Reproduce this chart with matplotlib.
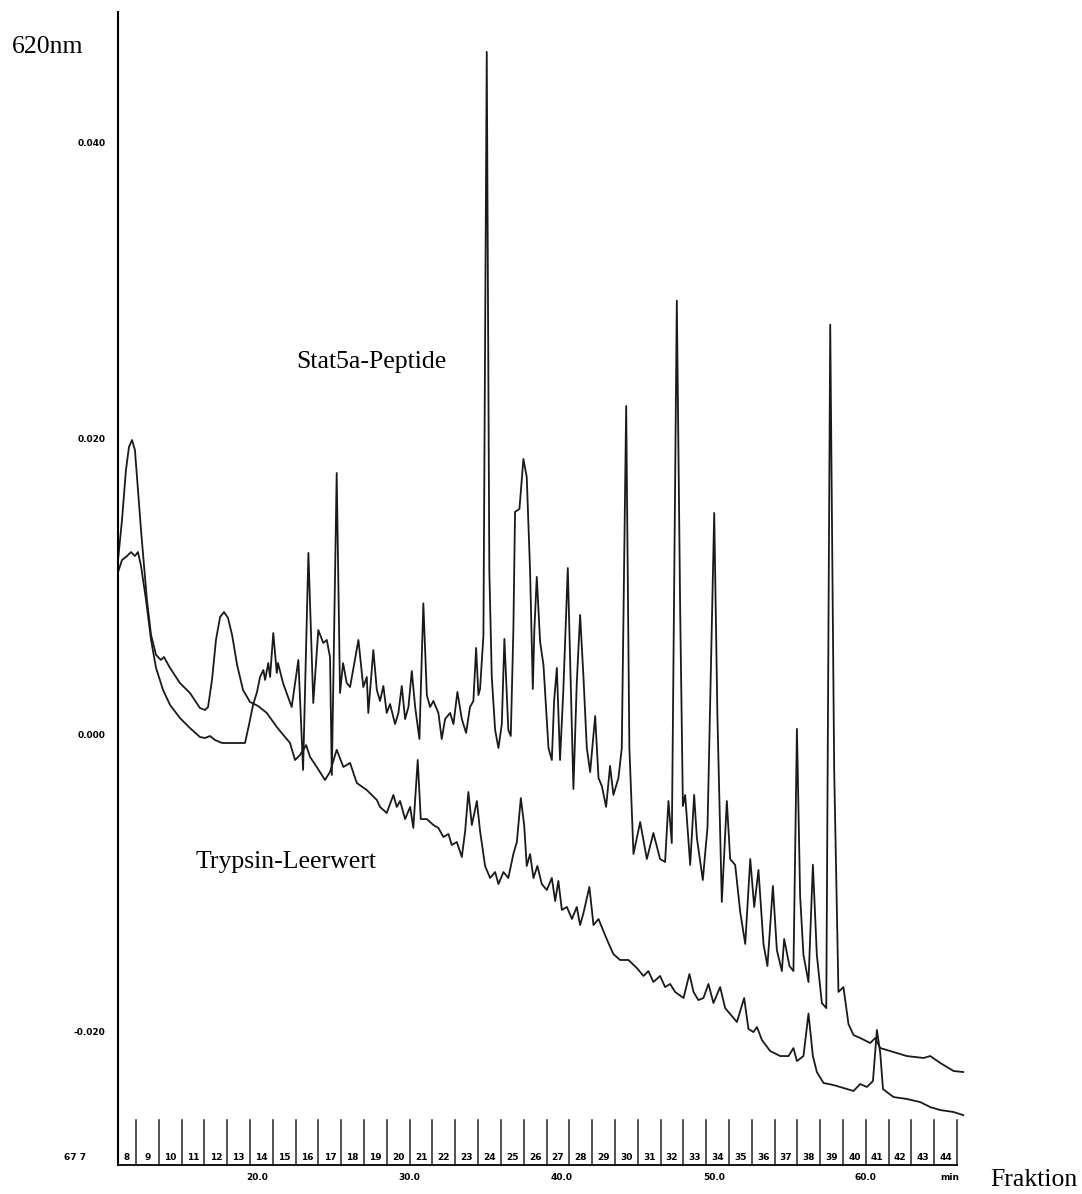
import numpy as np
import matplotlib
matplotlib.use('Agg')
import matplotlib.pyplot as plt

# retention time (min) and absorbance at 620 nm (mAU)
sample_t = [10.82, 11.08, 11.41, 11.67, 11.93, 12.13, 12.33, 12.66, 12.99, 13.32, 13.78, 14.24, 14.89, 15.55,
            16.21, 16.54, 16.87, 17.20, 17.66, 18.51, 19.17, 19.43, 19.70, 19.96, 20.16, 20.38, 20.49, 20.70,
            20.82, 21.03, 21.26, 21.34, 21.67, 22.24, 22.68, 22.99, 23.34, 23.66, 23.99, 24.32, 24.55, 24.76,
            24.88, 25.20, 25.42, 25.62, 25.86, 26.08, 26.63, 26.95, 27.18, 27.28, 27.61, 27.84, 28.05, 28.27,
            28.49, 28.71, 29.04, 29.26, 29.48, 29.70, 29.92, 30.14, 30.36, 30.64, 30.90, 31.13, 31.34, 31.56,
            31.89, 32.11, 32.33, 32.66, 32.88, 33.14, 33.43, 33.71, 33.97, 34.19, 34.37, 34.52, 34.63, 34.85,
            35.07, 35.24, 35.40, 35.62, 35.84, 36.06, 36.23, 36.49, 36.65, 36.82, 36.93, 37.22, 37.48, 37.70,
            37.92, 38.10, 38.20, 38.36, 38.58, 38.80, 39.13, 39.35, 39.50, 39.68, 39.89, 40.11, 40.40, 40.60,
            40.77, 40.99, 41.21, 41.43, 41.65, 41.87, 42.20, 42.42, 42.64, 42.92, 43.18, 43.40, 43.73, 43.95,
            44.24, 44.45, 44.72, 45.16, 45.60, 46.03, 46.47, 46.80, 47.02, 47.24, 47.57, 47.79, 47.97, 48.12,
            48.45, 48.71, 48.89, 49.28, 49.59, 50.03, 50.24, 50.53, 50.86, 51.08, 51.41, 51.74, 52.07, 52.40,
            52.66, 52.94, 53.27, 53.53, 53.89, 54.15, 54.48, 54.63, 54.98, 55.24, 55.47, 55.68, 55.90, 56.23,
            56.52, 56.78, 57.11, 57.40, 57.66, 57.92, 58.20, 58.53, 58.86, 59.19, 59.63, 60.29, 60.62, 60.95,
            62.70, 63.80, 64.24, 64.90, 65.77, 66.41]
sample_mau = [11.01, 11.82, 12.09, 12.36, 12.09, 12.36, 11.42, 9.12, 6.42, 4.53, 3.04, 2.03, 1.15, 0.47,
              -0.14, -0.20, -0.07, -0.34, -0.54, -0.54, -0.54, 0.68, 2.03, 2.91, 3.92, 4.39, 3.72, 4.86,
              3.92, 6.89, 4.19, 4.86, 3.51, 1.89, 5.07, -2.36, 12.30, 2.16, 7.09, 6.22, 6.42, 5.27,
              -2.70, 17.70, 2.84, 4.86, 3.51, 3.24, 6.42, 3.24, 3.92, 1.49, 5.74, 3.04, 2.30, 3.31,
              1.49, 2.09, 0.74, 1.49, 3.31, 1.08, 1.89, 4.32, 1.89, -0.27, 8.89, 2.70, 1.89, 2.30,
              1.49, -0.27, 1.08, 1.49, 0.74, 2.91, 1.08, 0.14, 1.89, 2.30, 5.88, 2.70, 3.11, 6.69,
              46.15, 11.08, 3.92, 0.34, -0.88, 0.74, 6.49, 0.34, -0.07, 7.09, 15.07, 15.27, 18.65, 17.43,
              11.08, 3.11, 7.09, 10.68, 6.28, 4.73, -0.88, -1.69, 2.30, 4.53, -1.69, 3.11, 11.28, 3.11,
              -3.65, 3.51, 8.11, 3.92, -0.88, -2.50, 1.28, -2.91, -3.45, -4.86, -2.09, -4.05, -2.91, -0.88,
              22.23, -0.88, -8.04, -5.88, -8.38, -6.62, -8.38, -8.58, -4.46, -7.30, 29.35, 8.51, -4.80, -4.05,
              -8.78, -4.05, -6.96, -9.80, -6.22, 15.00, 1.28, -11.28, -4.46, -8.38, -8.78, -11.96, -14.12, -8.38,
              -11.62, -9.12, -14.12, -15.61, -10.20, -14.53, -15.95, -13.78, -15.61, -15.95, 0.41, -10.88, -14.86, -16.69,
              -8.76, -14.86, -18.11, -18.45, 27.73, -2.30, -17.36, -17.03, -19.53, -20.27, -20.47, -20.81, -20.47, -21.15,
              -21.69, -21.82, -21.69, -22.16, -22.70, -22.77]

blank_t = [10.82, 11.08, 11.34, 11.54, 11.74, 11.93, 12.13, 12.33, 12.46, 12.72, 12.99, 13.32, 13.64, 13.84,
           14.24, 14.89, 15.55, 16.21, 16.54, 16.74, 17.00, 17.26, 17.53, 17.79, 18.05, 18.32, 18.65, 19.04,
           19.50, 20.03, 20.60, 21.26, 22.13, 22.46, 22.79, 23.19, 23.45, 23.89, 24.43, 24.76, 25.20, 25.64,
           26.08, 26.52, 27.18, 27.84, 28.05, 28.49, 28.93, 29.15, 29.37, 29.70, 30.03, 30.24, 30.53, 30.73,
           31.13, 31.56, 31.89, 32.22, 32.55, 32.77, 33.10, 33.43, 33.65, 33.86, 34.09, 34.42, 34.63, 34.96,
           35.29, 35.62, 35.84, 36.17, 36.49, 36.82, 37.05, 37.31, 37.53, 37.70, 37.92, 38.14, 38.40, 38.69,
           39.02, 39.35, 39.57, 39.78, 40.01, 40.34, 40.67, 40.99, 41.21, 41.43, 41.82, 42.09, 42.42, 42.74,
           43.07, 43.40, 43.84, 44.39, 44.94, 45.38, 45.70, 46.03, 46.47, 46.80, 47.13, 47.46, 48.01, 48.40,
           48.67, 48.99, 49.32, 49.65, 49.98, 50.42, 50.75, 51.08, 51.52, 52.00, 52.28, 52.61, 52.84, 53.17,
           53.71, 54.37, 54.92, 55.24, 55.47, 55.90, 56.23, 56.52, 56.78, 57.22, 57.88, 58.53, 59.19, 59.63,
           60.07, 60.47, 60.73, 60.95, 61.13, 61.82, 62.70, 63.58, 64.24, 64.90, 65.77, 66.41]
blank_mau = [11.82, 14.53, 17.91, 19.46, 19.93, 19.26, 16.55, 13.85, 12.30, 9.12, 6.76, 5.41, 5.07, 5.27,
             4.53, 3.51, 2.84, 1.82, 1.69, 1.89, 3.72, 6.42, 7.97, 8.31, 7.91, 6.76, 4.73, 3.04,
             2.23, 1.96, 1.49, 0.54, -0.54, -1.69, -1.35, -0.68, -1.49, -2.16, -3.04, -2.50, -1.00, -2.16,
             -1.89, -3.24, -3.72, -4.39, -4.86, -5.27, -4.05, -4.86, -4.46, -5.68, -4.86, -6.28, -1.69, -5.68,
             -5.68, -6.08, -6.28, -6.89, -6.69, -7.43, -7.23, -8.24, -6.49, -3.85, -6.08, -4.46, -6.49, -8.85,
             -9.66, -9.26, -10.07, -9.26, -9.66, -8.04, -7.23, -4.26, -6.08, -8.85, -8.04, -9.66, -8.85, -10.07,
             -10.47, -9.66, -11.22, -9.86, -11.82, -11.62, -12.43, -11.62, -12.84, -12.03, -10.27, -12.84, -12.43, -13.24,
             -14.05, -14.80, -15.20, -15.20, -15.74, -16.28, -15.95, -16.69, -16.28, -17.03, -16.82, -17.36, -17.77, -16.15,
             -17.36, -17.91, -17.77, -16.82, -18.11, -17.03, -18.45, -18.85, -19.39, -17.77, -19.86, -20.07, -19.73, -20.61,
             -21.35, -21.69, -21.69, -21.15, -22.03, -21.69, -18.82, -21.69, -22.77, -23.51, -23.65, -23.85, -24.05, -23.58,
             -23.78, -23.38, -19.93, -21.49, -23.92, -24.46, -24.59, -24.80, -25.14, -25.34, -25.47, -25.68]

# fraction collector: numbers and end times (min), 1.5 min per fraction
fractions = list(range(8, 45))
fraction_end = [12.0, 13.5, 15.0, 16.5, 18.0, 19.5, 21.0, 22.5, 24.0, 25.5, 27.0, 28.5, 30.0, 31.5, 33.0,
                34.5, 36.0, 37.5, 39.0, 40.5, 42.0, 43.5, 45.0, 46.5, 48.0, 49.5, 51.0, 52.5, 54.0, 55.5,
                57.0, 58.5, 60.0, 61.5, 63.0, 64.5, 66.0]
minute_ticks = [20.0, 30.0, 40.0, 50.0, 60.0]
y_ticks = [0.040, 0.020, 0.000, -0.020]

serif = 'Liberation Serif'
t0, t1 = 10.82, 66.0

fig = plt.figure(figsize=(10.82, 11.94), dpi=100)
ax = fig.add_axes([0.1091, 0.0243, 0.7754, 0.9657])

ax.plot(sample_t, np.array(sample_mau) / 1000, color='#1a1a1a', lw=1.3, clip_on=False)
ax.plot(blank_t, np.array(blank_mau) / 1000, color='#1a1a1a', lw=1.3, clip_on=False)

ax.set_xlim(t0, t1)
ax.set_ylim(-0.02905, 0.04885)
for s in ['top', 'right']:
    ax.spines[s].set_visible(False)
ax.spines['left'].set_linewidth(1.5)
ax.spines['bottom'].set_linewidth(1.3)
ax.set_xticks([])
ax.set_yticks(y_ticks)
ax.set_yticklabels(['%.3f' % v if v >= 0 else '-%.3f' % abs(v) for v in y_ticks],
                   fontsize=6.5, fontweight='bold')
ax.tick_params(axis='y', length=0, pad=9)

# fraction strip along the bottom
trans = ax.get_xaxis_transform()
for e in fraction_end:
    ax.plot([e, e], [0, 0.039], transform=trans, color='#222222', lw=1.1, clip_on=False)
starts = [t0] + fraction_end[:-1]
for n, a, b in zip(fractions, starts, fraction_end):
    ax.text((a + b) / 2, 0.0065, str(n), transform=trans, ha='center', va='center',
            fontsize=6.5, fontweight='bold')
for m in minute_ticks:
    ax.text(m, -0.0105, '%.1f' % m, transform=trans, ha='center', va='center',
            fontsize=6.5, fontweight='bold')
ax.text(65.55, -0.0105, 'min', transform=trans, ha='center', va='center', fontsize=6.5, fontweight='bold')
ax.text(-0.051, 0.0065, '67 7', transform=ax.transAxes, ha='center', va='center',
        fontsize=6.5, fontweight='bold')

# labels
ax.text(27.46, 0.0252, 'Stat5a-Peptide', family=serif, fontsize=18.5, ha='center', va='center')
ax.text(21.90, -0.00858, 'Trypsin-Leerwert', family=serif, fontsize=18.5, ha='center', va='center')
fig.text(12 / 1082, 1 - 47 / 1194, '620nm', family=serif, fontsize=18.5, ha='left', va='center')
fig.text(990 / 1082, 1 - 1180 / 1194, 'Fraktion', family=serif, fontsize=18.5, ha='left', va='center')

fig.savefig('out.png', dpi=100)
